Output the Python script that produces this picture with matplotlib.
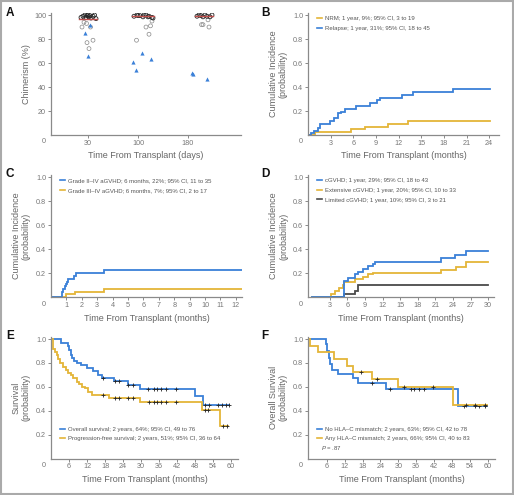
import numpy as np
import matplotlib
matplotlib.use('Agg')
import matplotlib.pyplot as plt
from matplotlib.patches import Rectangle
from matplotlib.lines import Line2D

plt.rcParams['font.family'] = ['Liberation Sans Narrow', 'Liberation Sans', 'DejaVu Sans']
plt.rcParams['mathtext.fontset'] = 'custom'
plt.rcParams['mathtext.it'] = 'Liberation Sans:italic'
plt.rcParams['mathtext.rm'] = 'Liberation Sans'

BLUE = '#3a80d8'
GOLD = '#e4b538'
DARK = '#4a4a4a'
AXC = '#8a8a8a'
TXT = '#666666'

# ---- Panel A: Chimerismus-Daten
days = ['30', '100', '180']
tri_vals = [[85, 66, 92], [68, 61, 63, 54], [52, 51, 47]]
tri_jit = [[-0.07, 0.0, 0.04], [0.08, -0.1, 0.25, -0.05], [0.07, 0.09, 0.38]]
circ_vals = [[90, 94, 77, 72, 79, 90, 93], [79, 84, 90, 91, 95], [92, 92, 90, 96]]
circ_jit = [[-0.12, -0.08, -0.02, 0.02, 0.1, 0.05, -0.03], [-0.03, 0.22, 0.16, 0.25, 0.28], [0.27, 0.3, 0.42, 0.4]]
top_vals = [[98, 99, 100, 99.5, 98.5, 97.5, 99, 100, 98, 99.5, 100, 97],
            [99, 100, 99.5, 98.5, 100, 99, 98, 99.5, 100, 98.5, 97.5],
            [99, 100, 99.5, 98.5, 100, 99, 98.5, 100]]
top_jit = [[-0.14, -0.1, -0.06, -0.02, 0.02, 0.06, 0.1, 0.13, -0.04, 0.04, 0.0, 0.16],
           [-0.08, -0.02, 0.04, 0.1, 0.16, 0.22, 0.28, 0.0, 0.12, 0.2, 0.3],
           [0.18, 0.22, 0.26, 0.3, 0.34, 0.38, 0.44, 0.48]]
median_vals = [97, 99.3, 99.3]
median_span = [(-0.18, 0.18), (-0.12, 0.32), (0.14, 0.5)]

# ---- Panel B: NRM / Rezidiv
nrm_t = [0, 0.9, 5.75, 7.5, 10.6, 13.2, 24.1]
nrm_v = [0, 0.023, 0.047, 0.07, 0.092, 0.115, 0.115]
rel_t = [0, 0.4, 0.84, 1.28, 1.64, 2.9, 3.5, 4.0, 4.4, 4.95, 6.4, 8.15, 9.2, 9.5, 12.5, 13.85, 19.15, 24.1]
rel_v = [0, 0.014, 0.036, 0.061, 0.089, 0.117, 0.139, 0.18, 0.195, 0.22, 0.244, 0.27, 0.29, 0.31, 0.336, 0.358, 0.38, 0.38]

# ---- Panel C: akute GVHD
ag24_t = [0, 0.72, 0.8, 0.88, 0.95, 1.05, 1.12, 1.5, 1.6, 3.45, 12.4]
ag24_v = [0, 0.04, 0.07, 0.09, 0.11, 0.13, 0.155, 0.175, 0.205, 0.225, 0.225]
ag34_t = [0, 0.95, 1.58, 3.45, 12.4]
ag34_v = [0, 0.025, 0.048, 0.072, 0.072]

# ---- Panel D: chronische GVHD
cg_t = [0, 5.44, 6.2, 7.3, 7.9, 8.7, 9.6, 10.4, 10.8, 22.0, 24.4, 26.2, 30.0]
cg_v = [0, 0.136, 0.158, 0.19, 0.214, 0.235, 0.258, 0.28, 0.297, 0.325, 0.352, 0.386, 0.386]
ext_t = [0, 3.2, 3.9, 4.5, 5.2, 5.5, 7.3, 8.7, 9.6, 10.4, 22.0, 24.5, 26.3, 30.0]
ext_v = [0, 0.027, 0.05, 0.075, 0.102, 0.13, 0.152, 0.172, 0.19, 0.2, 0.228, 0.252, 0.29, 0.29]
lim_t = [0, 5.5, 7.3, 7.9, 30.0]
lim_v = [0, 0.028, 0.055, 0.1, 0.1]

# ---- Panel E: OS / PFS
os_t = [0, 3.3, 5.5, 6.0, 6.5, 7.0, 7.5, 8.5, 10.0, 12.0, 14.0, 15.5, 17.0, 21.0, 25.5, 29.5, 48.0, 50.5, 59.4]
os_v = [1.0, 0.97, 0.94, 0.91, 0.87, 0.84, 0.82, 0.8, 0.78, 0.755, 0.73, 0.7, 0.67, 0.645, 0.615, 0.585, 0.52, 0.445, 0.445]
os_cens = [17.4, 21.3, 22.6, 25.8, 27.2, 32.2, 34.3, 35.4, 36.7, 38.2, 41.7, 51.3, 52.5, 55.5, 56.9, 58.2, 59.4]
pfs_t = [0, 0.56, 1.33, 1.9, 2.44, 3.0, 4.1, 5.0, 5.8, 6.5, 7.4, 8.6, 9.4, 10.2, 11.3, 12.4, 13.6, 19.4, 29.7, 50.4, 56.4, 58.9]
pfs_v = [1.0, 0.92, 0.893, 0.865, 0.832, 0.796, 0.768, 0.74, 0.712, 0.698, 0.67, 0.643, 0.62, 0.6, 0.587, 0.56, 0.534, 0.51, 0.475, 0.41, 0.27, 0.27]
pfs_cens = [17.4, 21.3, 22.8, 25.8, 27.2, 32.7, 34.3, 35.4, 36.7, 38.2, 41.7, 51.3, 52.4, 57.4, 58.6]

# ---- Panel F: HLA-C
nomm_t = [0, 5.6, 6.2, 6.6, 7.0, 7.6, 9.8, 14.9, 16.5, 25.7, 50.1, 59.8]
nomm_v = [1.0, 0.96, 0.9, 0.84, 0.79, 0.74, 0.705, 0.67, 0.635, 0.585, 0.44, 0.44]
nomm_cens = [21.2, 27.2, 34.3, 35.4, 36.8, 38.6, 52.0, 55.7, 57.1, 59.2]
mm_t = [0, 0.3, 3.1, 8.5, 12.9, 14.9, 21.0, 29.8, 48.4, 59.8]
mm_v = [1.0, 0.945, 0.89, 0.835, 0.775, 0.72, 0.665, 0.6, 0.445, 0.445]
mm_cens = [17.6, 22.9, 32.0, 41.7, 52.6, 55.6, 59.0]

W, H = 514, 495
fig = plt.figure(figsize=(W / 100, H / 100), dpi=100)


def px_axes(x0, y0, x1, y1):
    return fig.add_axes([x0 / W, 1 - y1 / H, (x1 - x0) / W, (y1 - y0) / H])


def style(ax, xticks, yticks, ylab, xlab, ylab_dx):
    for s in ['top', 'right']:
        ax.spines[s].set_visible(False)
    for s in ['left', 'bottom']:
        ax.spines[s].set_color(AXC)
        ax.spines[s].set_linewidth(0.9)
    ax.set_xticks(xticks)
    ax.set_yticks(yticks)
    ax.tick_params(colors=AXC, labelcolor='#777777', labelsize=5.2, length=2, width=0.7, pad=1.5)
    ax.annotate('0', xy=(0, 0), xycoords='axes fraction', xytext=(-5, -5),
                textcoords='offset points', ha='center', va='center', fontsize=5.2, color='#777777')
    ax.text(0.5, -0.17, xlab, transform=ax.transAxes, ha='center', va='center', fontsize=6.5, color=TXT)
    ax.text(ylab_dx, 0.5, ylab, transform=ax.transAxes, ha='center', va='center',
            rotation=90, fontsize=6.5, color=TXT, linespacing=1.15)


def km(ax, t, v, c, cens=None):
    ax.step(t, v, where='post', color=c, lw=1.3, solid_joinstyle='miter')
    if cens:
        idx = np.searchsorted(t, cens, side='right') - 1
        ax.plot(cens, np.array(v)[idx], ls='none', marker='|', ms=2.5, mew=0.6, color='#222222')
        ax.plot(cens, np.array(v)[idx], ls='none', marker='_', ms=2.5, mew=0.6, color='#222222')


def legend(ax, labels, colors, loc, anchor):
    hs = [Line2D([0], [0], color=c, lw=1.2) for c in colors]
    lg = ax.legend(hs, labels, loc=loc, bbox_to_anchor=anchor, frameon=False, fontsize=4.3,
                   handlelength=0.8, handletextpad=0.6, labelspacing=0.75, borderpad=0, borderaxespad=0)
    for tx in lg.get_texts():
        tx.set_color('#555555')


# Panel A
axA = px_axes(51, 13, 241, 135)
for i in range(3):
    pos = i + 1
    axA.scatter(pos + np.array(circ_jit[i]), circ_vals[i], s=8, facecolors='none', edgecolors='#888888', lw=0.5, zorder=2)
    axA.scatter(pos + np.array(top_jit[i]), top_vals[i], s=8, facecolors='none', edgecolors='#222222', lw=0.6, zorder=3)
    axA.scatter(pos + np.array(tri_jit[i]), tri_vals[i], s=9, marker='^', color=BLUE, lw=0, zorder=3)
    axA.plot([pos + median_span[i][0], pos + median_span[i][1]], [median_vals[i]] * 2, color='#c0504d', lw=1.0, zorder=4)
axA.set_xlim(0.26, 4.06)
axA.set_ylim(0, 101.7)
style(axA, [1, 2, 3], [20, 40, 60, 80, 100], 'Chimerism (%)', 'Time From Transplant (days)', -0.13)
axA.set_xticklabels(days)

# Panel B
axB = px_axes(308, 13, 499, 135)
km(axB, nrm_t, nrm_v, GOLD)
km(axB, rel_t, rel_v, BLUE)
axB.set_xlim(0, 25.3)
axB.set_ylim(0, 1.017)
style(axB, np.arange(3, 25, 3), [0.2, 0.4, 0.6, 0.8, 1.0], 'Cumulative Incidence\n(probability)',
      'Time From Transplant (months)', -0.155)
axB.set_yticklabels(['0.2', '0.4', '0.6', '0.8', '1.0'])
legend(axB, ['NRM; 1 year, 9%; 95% CI, 3 to 19', 'Relapse; 1 year, 31%; 95% CI, 18 to 45'],
       [GOLD, BLUE], 'upper left', (0.047, 0.975))

# Panel C
axC = px_axes(51, 175, 242, 297.3)
km(axC, ag34_t, ag34_v, GOLD)
km(axC, ag24_t, ag24_v, BLUE)
axC.set_xlim(0, 12.4)
axC.set_ylim(0, 1.017)
style(axC, np.arange(1, 13), [0.2, 0.4, 0.6, 0.8, 1.0], 'Cumulative Incidence\n(probability)',
      'Time From Transplant (months)', -0.155)
axC.set_yticklabels(['0.2', '0.4', '0.6', '0.8', '1.0'])
legend(axC, ['Grade II\u2013IV aGVHD; 6 months, 22%; 95% CI, 11 to 35',
             'Grade III\u2013IV aGVHD; 6 months, 7%; 95% CI, 2 to 17'],
       [BLUE, GOLD], 'upper left', (0.047, 0.975))

# Panel D
axD = px_axes(308, 175, 494, 297.3)
km(axD, lim_t, lim_v, DARK)
km(axD, ext_t, ext_v, GOLD)
km(axD, cg_t, cg_v, BLUE)
axD.set_xlim(-0.7, 31)
axD.set_ylim(0, 1.017)
style(axD, np.arange(3, 31, 3), [0.2, 0.4, 0.6, 0.8, 1.0], 'Cumulative Incidence\n(probability)',
      'Time From Transplant (months)', -0.158)
axD.set_yticklabels(['0.2', '0.4', '0.6', '0.8', '1.0'])
legend(axD, ['cGVHD; 1 year, 29%; 95% CI, 18 to 43', 'Extensive cGVHD; 1 year, 20%; 95% CI, 10 to 33',
             'Limited cGVHD; 1 year, 10%; 95% CI, 3 to 21'],
       [BLUE, GOLD, DARK], 'upper left', (0.047, 0.975))

# Panel E
axE = px_axes(51, 337, 238, 458.5)
km(axE, os_t, os_v, BLUE, os_cens)
km(axE, pfs_t, pfs_v, GOLD, pfs_cens)
axE.set_xlim(0, 62.3)
axE.set_ylim(0, 1.017)
style(axE, np.arange(6, 61, 6), [0.2, 0.4, 0.6, 0.8, 1.0], 'Survival\n(probability)',
      'Time From Transplant (months)', -0.158)
axE.set_yticklabels(['0.2', '0.4', '0.6', '0.8', '1.0'])
legend(axE, ['Overall survival; 2 years, 64%; 95% CI, 49 to 76',
             'Progression-free survival; 2 years, 51%; 95% CI, 36 to 64'],
       [BLUE, GOLD], 'lower left', (0.047, 0.14))

# Panel F
axF = px_axes(308, 337, 495, 458.5)
km(axF, nomm_t, nomm_v, BLUE, nomm_cens)
km(axF, mm_t, mm_v, GOLD, mm_cens)
axF.set_xlim(-0.3, 62.4)
axF.set_ylim(0, 1.017)
style(axF, np.arange(6, 61, 6), [0.2, 0.4, 0.6, 0.8, 1.0], 'Overall Survival\n(probability)',
      'Time From Transplant (months)', -0.158)
axF.set_yticklabels(['0.2', '0.4', '0.6', '0.8', '1.0'])
legend(axF, ['No HLA\u2013C mismatch; 2 years, 63%; 95% CI, 42 to 78',
             'Any HLA\u2013C mismatch; 2 years, 66%; 95% CI, 40 to 83'],
       [BLUE, GOLD], 'lower left', (0.047, 0.14))
axF.text(0.068, 0.085, '$P$ = .87', transform=axF.transAxes, fontsize=4.3, color='#555555', va='center')

# Panel-Buchstaben
for lab, x, y in [('A', 10, 12.5), ('B', 265, 12.5), ('C', 10, 174), ('D', 265, 174), ('E', 10, 336), ('F', 265, 336)]:
    fig.text(x / W, 1 - y / H, lab, ha='center', va='center', fontsize=8.5, fontweight='bold',
             family=['Liberation Sans', 'DejaVu Sans'], color='#111111')

# grauer Rahmen
fig.patches.append(Rectangle((0.002, 0.002), 0.996, 0.996, transform=fig.transFigure,
                             fill=False, edgecolor='#aaaaaa', lw=1.5))

fig.savefig('out.png', dpi=100)
